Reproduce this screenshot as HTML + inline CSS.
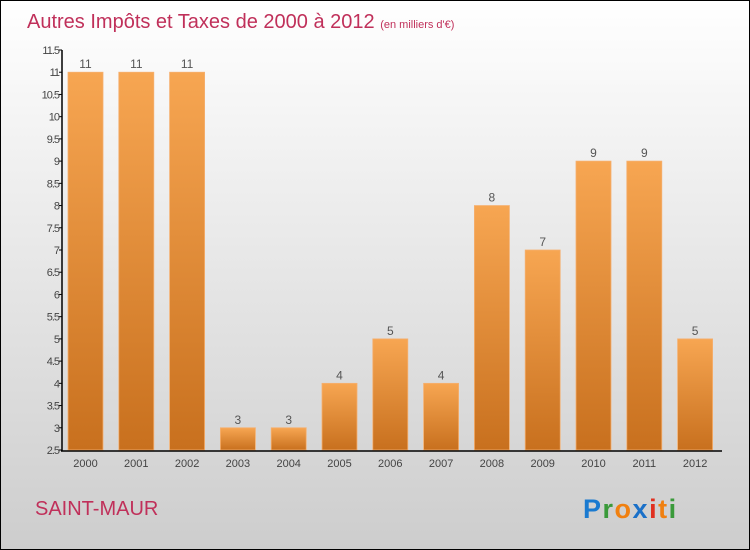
<!DOCTYPE html>
<html><head><meta charset="utf-8"><style>
body{margin:0}
#c{position:relative;width:748px;height:548px;border:1px solid #000;background:linear-gradient(#ffffff,#cdcdcd);overflow:hidden;font-family:"Liberation Sans",sans-serif}
</style></head><body>
<div id="c">
<svg id="s" width="748" height="548">
<defs><linearGradient id="g" x1="0" y1="0" x2="0" y2="1"><stop offset="0" stop-color="#f7a652"/><stop offset="1" stop-color="#c8701e"/></linearGradient></defs>
<text x="26" y="27" font-size="20" fill="#c0305a">Autres Impôts et Taxes de 2000 à 2012 <tspan font-size="11">(en milliers d'€)</tspan></text>
<text x="34" y="514" font-size="20" fill="#c0305a">SAINT-MAUR</text>
<text x="582" y="517" font-size="27" font-weight="bold" letter-spacing="1.5"><tspan fill="#1a7ad0">P</tspan><tspan fill="#3a9a3a">r</tspan><tspan fill="#f08010">o</tspan><tspan fill="#1a70c8">x</tspan><tspan fill="#e03020">i</tspan><tspan fill="#f08010">t</tspan><tspan fill="#3a9a3a">i</tspan></text>
</svg></div>
<script>
const years=["2000","2001","2002","2003","2004","2005","2006","2007","2008","2009","2010","2011","2012"];
const values=[11,11,11,3,3,4,5,4,8,7,9,9,5];
const ticks=[2.5,3,3.5,4,4.5,5,5.5,6,6.5,7,7.5,8,8.5,9,9.5,10,10.5,11,11.5];
const ns="http://www.w3.org/2000/svg",s=document.getElementById('s');
const y=v=>449-(v-2.5)/9*400, x=i=>67+i*50.8;
function mk(t,a){const e=document.createElementNS(ns,t);for(const k in a)e.setAttribute(k,a[k]);s.appendChild(e);return e;}
values.forEach((v,i)=>{
 const r=mk('rect',{x:x(i),y:y(v),width:35,height:449-y(v),fill:'url(#g)',stroke:'#f5b070','stroke-width':0.8});
 
 
 const t=mk('text',{x:x(i)+17.5,y:y(v)-4,'font-size':12,fill:'#555','text-anchor':'middle'});t.textContent=v;
 
 
 const l=mk('text',{x:x(i)+17.5,y:466,'font-size':11,fill:'#444','text-anchor':'middle'});l.textContent=years[i];
 
 
});
ticks.forEach(v=>{
 mk('line',{x1:58,x2:61,y1:y(v),y2:y(v),stroke:'#000'});
 const t=mk('text',{x:58,y:y(v)+4,'font-size':11,fill:'#444','text-anchor':'end','letter-spacing':'-1'});t.textContent=v;
 
 
});
const ya=mk('line',{x1:61,x2:61,y1:49,y2:450,stroke:'#000','stroke-width':1.5});


const xa=mk('line',{x1:60,x2:721,y1:450,y2:450,stroke:'#000','stroke-width':1.5});


</script>
</body></html>
